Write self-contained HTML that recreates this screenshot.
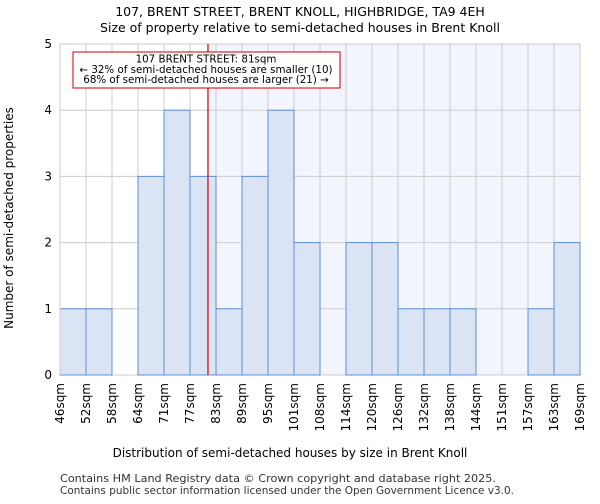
<!DOCTYPE html>
<html><head><meta charset="utf-8"><style>
body{margin:0;background:#fff;font-family:"DejaVu Sans","Liberation Sans",sans-serif;}
</style></head><body>
<svg width="600" height="500" xmlns="http://www.w3.org/2000/svg" font-family="DejaVu Sans, Liberation Sans, sans-serif">
<text x="300" y="16" text-anchor="middle" font-size="12.5">107, BRENT STREET, BRENT KNOLL, HIGHBRIDGE, TA9 4EH</text>
<text x="300" y="32" text-anchor="middle" font-size="12.5">Size of property relative to semi-detached houses in Brent Knoll</text>
<g id="plot"></g>
<text x="290" y="457" text-anchor="middle" font-size="12">Distribution of semi-detached houses by size in Brent Knoll</text>
<text transform="translate(13,218) rotate(-90)" text-anchor="middle" font-size="12">Number of semi-detached properties</text>
<text x="60" y="482" font-size="10.4" fill="#333" textLength="436" lengthAdjust="spacingAndGlyphs">Contains HM Land Registry data © Crown copyright and database right 2025.</text>
<text x="60" y="494" font-size="10.4" fill="#333" textLength="454" lengthAdjust="spacingAndGlyphs">Contains public sector information licensed under the Open Government Licence v3.0.</text>
</svg>
<script>
const binLabels=["46sqm","52sqm","58sqm","64sqm","71sqm","77sqm","83sqm","89sqm","95sqm","101sqm","108sqm","114sqm","120sqm","126sqm","132sqm","138sqm","144sqm","151sqm","157sqm","163sqm","169sqm"];
const counts=[1,1,0,3,4,3,1,3,4,2,0,2,2,1,1,1,0,0,1,2];
const yTicks=[0,1,2,3,4,5];
const propertySize=81;
const sizeMin=46, sizeMax=169;
const X0=60,X1=580,Y0=375,Y1=44;
const ns="http://www.w3.org/2000/svg";
const g=document.getElementById('plot');
const bw=(X1-X0)/counts.length;
function xb(i){return X0+i*bw;}
function xs(v){return X0+(v-sizeMin)/(sizeMax-sizeMin)*(X1-X0);}
function y(v){return Y0-(v/5)*(Y0-Y1);}
function mk(t,a){const e=document.createElementNS(ns,t);for(const k in a)e.setAttribute(k,a[k]);g.appendChild(e);return e;}
const rx=xs(propertySize);
const sh=mk('rect',{x:rx,y:Y1,width:X1-rx,height:Y0-Y1,fill:'#f2f5fd'});


for(let i=0;i<=counts.length;i++){const l=mk('line',{x1:xb(i),x2:xb(i),y1:Y1,y2:Y0,stroke:'#ccc','stroke-width':1});

}
yTicks.forEach(t=>{const l=mk('line',{x1:X0,x2:X1,y1:y(t),y2:y(t),stroke:'#ccc','stroke-width':1});


const tx=mk('text',{x:X0-8,y:y(t)+4,'text-anchor':'end','font-size':12});tx.textContent=t;

});
counts.forEach((c,i)=>{if(c<=0)return;const r=mk('rect',{x:xb(i),y:y(c),width:bw,height:Y0-y(c),fill:'#dae4f4',stroke:'#5b8fd4','stroke-width':1});

});
binLabels.forEach((b,i)=>{const x=xb(i);const t=mk('text',{transform:`translate(${x+4},${Y0+8}) rotate(-90)`,'text-anchor':'end','font-size':12});t.textContent=b;

});
const ax=mk('line',{x1:X0,x2:X0,y1:Y1,y2:Y0,stroke:'#ccc'});


const ml=mk('line',{x1:rx,x2:rx,y1:Y1,y2:Y0,stroke:'#cc0000','stroke-width':1.2});


const box=mk('rect',{x:73,y:52,width:267,height:36,fill:'#fff',stroke:'#cc0000','stroke-width':1});


["107 BRENT STREET: 81sqm","← 32% of semi-detached houses are smaller (10)","68% of semi-detached houses are larger (21) →"].forEach((s,i)=>{const t=mk('text',{x:206,y:62.5+i*10.3,'text-anchor':'middle','font-size':10.3});t.textContent=s;

});
</script>
</body></html>
